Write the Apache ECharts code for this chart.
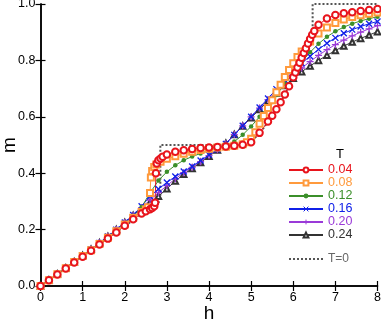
<!DOCTYPE html>
<html>
<head>
<meta charset="utf-8">
<script src="https://cdn.jsdelivr.net/npm/echarts@6/dist/echarts.min.js"></script>
<style>
html,body{margin:0;padding:0;background:#fff;}
#chart{width:381px;height:324px;}
</style>
</head>
<body>
<div id="chart"></div>
<script>
// h grid shared by the T=0.12 .. 0.24 curves
let hGrid = [0,0.2,0.4,0.6,0.8,1.0,1.2,1.4,1.6,1.8,2.0,2.2,2.4,2.6,2.8,3.0,3.2,3.4,3.6,3.8,4.0,
    4.2,4.4,4.6,4.8,5.0,5.2,5.4,5.6,5.8,6.0,6.2,6.4,6.6,6.8,7.0,7.2,7.4,7.6,7.8,8.0];

let mT24 = [0,0.021,0.043,0.064,0.086,0.108,0.13,0.153,0.176,0.2,0.225,0.25,0.274,0.296,0.318,0.345,0.372,0.396,0.417,0.438,0.46,
    0.482,0.506,0.537,0.567,0.597,0.626,0.655,0.684,0.711,0.737,0.76,0.78,0.80,0.818,0.835,0.851,0.865,0.878,0.89,0.902];
let mT20 = [0,0.021,0.043,0.064,0.086,0.108,0.13,0.153,0.176,0.2,0.225,0.251,0.278,0.305,0.331,0.356,0.38,0.402,0.421,0.441,0.462,
    0.483,0.505,0.537,0.568,0.6,0.631,0.661,0.691,0.72,0.748,0.773,0.796,0.818,0.838,0.856,0.872,0.887,0.9,0.912,0.923];
let mT16 = [0,0.021,0.043,0.064,0.086,0.108,0.13,0.153,0.176,0.2,0.225,0.252,0.283,0.318,0.344,0.367,0.388,0.406,0.424,0.445,0.465,
    0.484,0.504,0.536,0.568,0.6,0.633,0.665,0.698,0.73,0.762,0.79,0.815,0.839,0.861,0.88,0.896,0.909,0.92,0.93,0.938];
let mT12 = [0,0.021,0.042,0.064,0.085,0.107,0.129,0.151,0.174,0.198,0.222,0.248,0.28,0.33,0.374,0.405,0.428,0.446,0.459,0.47,0.481,
    0.49,0.498,0.512,0.536,0.566,0.6,0.638,0.677,0.717,0.757,0.795,0.829,0.859,0.884,0.903,0.918,0.93,0.94,0.948,0.955];

// T=0.08 (denser near the jumps)
let hT08 = [0,0.2,0.4,0.6,0.8,1.0,1.2,1.4,1.6,1.8,2.0,2.2,2.4,
    2.5,2.55,2.6,2.62,2.65,2.7,2.75,2.85,
    3.0,3.2,3.4,3.6,3.8,4.0,4.2,4.4,4.6,4.8,
    4.9,5.0,5.1,5.2,5.3,5.4,5.5,5.6,5.7,5.8,5.9,6.0,6.1,6.2,
    6.4,6.6,6.8,7.0,7.2,7.4,7.6,7.8,8.0];
let mT08 = [0,0.02,0.042,0.063,0.085,0.106,0.127,0.149,0.171,0.194,0.218,0.242,0.262,
    0.271,0.279,0.33,0.385,0.408,0.422,0.431,0.441,
    0.451,0.46,0.469,0.476,0.482,0.487,0.491,0.494,0.497,0.503,
    0.51,0.522,0.545,0.575,0.603,0.631,0.659,0.687,0.714,0.741,0.766,0.79,0.812,0.832,
    0.867,0.895,0.917,0.933,0.945,0.954,0.96,0.965,0.97];

// T=0.04
let hT04 = [0,0.2,0.4,0.6,0.8,1.0,1.2,1.4,1.6,1.8,2.0,2.2,2.4,
    2.5,2.6,2.65,2.7,2.72,2.74,2.76,2.8,2.85,2.9,
    3.0,3.2,3.4,3.6,3.8,4.0,4.2,4.4,4.6,4.8,
    5.0,5.2,5.4,
    5.5,5.6,5.7,5.8,5.9,6.0,
    6.05,6.1,6.15,6.2,6.25,6.3,6.35,6.4,6.45,6.5,
    6.6,6.8,7.0,7.2,7.4,7.6,7.8,8.0];
let mT04 = [0,0.02,0.041,0.062,0.083,0.104,0.125,0.147,0.168,0.19,0.214,0.237,0.257,
    0.265,0.272,0.277,0.283,0.295,0.4,0.434,0.446,0.452,0.458,
    0.466,0.476,0.481,0.486,0.489,0.491,0.493,0.495,0.497,0.501,
    0.51,0.543,0.583,
    0.604,0.627,0.652,0.679,0.708,0.74,
    0.757,0.775,0.792,0.809,0.826,0.843,0.86,0.876,0.891,0.904,
    0.926,0.949,0.961,0.967,0.971,0.975,0.979,0.982];

// T=0 ground state
let hT0 = [0,2.845,2.845,4.9,5.2,5.6,6.0,6.3,6.46,6.46,8];
let mT0 = [0,0.302,0.5,0.5,0.54,0.625,0.735,0.84,0.88,1.0,1.0];

let tNames = ['0.04','0.08','0.12','0.16','0.20','0.24'];

let myChart = echarts.init(document.getElementById('chart'));
let font = 'Liberation Sans';
let color = ['#e8141c','#ff9a3c','#3b8f2a','#1020e8','#9a3ad8','#333333'];
let symbols = ['emptyCircle','emptyRect','circle','path://M0,0L10,10M10,0L0,10','path://M5,0L5,10M0,5L10,5','emptyTriangle'];
let sizes = [6.5,6,4.5,6,7,5.5];
let hs = [hT04,hT08,hGrid,hGrid,hGrid,hGrid];
let ms = [mT04,mT08,mT12,mT16,mT20,mT24];

function pairs(h, m) {
    return h.map(function (v, i) { return [v, m[i]]; });
}

let seriesData = [{
    name: 'T=0',
    type: 'line',
    symbol: 'none',
    lineStyle: { color: '#555', width: 2, type: [2,2] },
    itemStyle: { color: '#555' },
    data: pairs(hT0, mT0),
    z: 1
}];
let legendArr = [];
for (let i = 5; i >= 0; i--) {
    let isPath = symbols[i].indexOf('path://') === 0;
    seriesData.push({
        name: tNames[i],
        type: 'line',
        symbol: symbols[i],
        symbolSize: sizes[i],
        showAllSymbol: true,
        lineStyle: { color: color[i], width: 1 },
        itemStyle: isPath ? { color: color[i], borderColor: color[i], borderWidth: 1.3 } : { color: color[i], borderWidth: 1.1 },
        data: pairs(hs[i], ms[i]),
        z: 2
    });
}
for (let i = 0; i < 6; i++) {
    legendArr.push({ name: tNames[i], textStyle: { color: color[i] }, itemStyle: { borderWidth: 1 } });
}

let axisLine = { show: true, lineStyle: { color: '#000', width: 1.5 } };
let tick = { show: true, inside: true, length: 5, lineStyle: { color: '#000', width: 1.2 } };

let option = {
    animation: false,
    grid: { left: 40.5, right: 3.5, top: 4, bottom: 38, containLabel: false, outerBoundsMode: 'none' },
    xAxis: [{
        type: 'value', min: 0, max: 8, interval: 1,
        name: 'h', nameLocation: 'middle', nameGap: 18, nameMoveOverlap: false,
        nameTextStyle: { fontSize: 19, fontFamily: font, color: '#000' },
        axisLine: axisLine, axisTick: tick,
        axisLabel: { fontSize: 12.5, fontFamily: font, color: '#000', margin: 5 },
        splitLine: { show: false }
    }, {
        type: 'value', min: 0, max: 8, interval: 1, position: 'top',
        axisLine: axisLine, axisTick: tick, axisLabel: { show: false }, splitLine: { show: false }
    }],
    yAxis: [{
        type: 'value', min: 0, max: 1, interval: 0.2,
        name: 'm', nameLocation: 'middle', nameGap: 21, nameMoveOverlap: false,
        nameTextStyle: { fontSize: 19, fontFamily: font, color: '#000' },
        axisLine: axisLine, axisTick: tick,
        axisLabel: { fontSize: 12.5, fontFamily: font, color: '#000', margin: 5,
            formatter: function (v) { return v.toFixed(1); } },
        splitLine: { show: false }
    }, {
        type: 'value', min: 0, max: 1, interval: 0.2, position: 'right',
        axisLine: axisLine, axisTick: tick, axisLabel: { show: false }, splitLine: { show: false }
    }],
    legend: [{
        data: legendArr,
        orient: 'vertical', left: 288, top: 163.5, padding: 0,
        itemWidth: 34, itemHeight: 6, itemGap: 0, itemTextGap: 6,
        selectedMode: false,
        textStyle: { fontSize: 12.5, lineHeight: 12.9, fontFamily: font }
    }, {
        data: [{ name: 'T=0', textStyle: { color: '#666' }, itemStyle: { opacity: 0 } }],
        orient: 'vertical', left: 288, top: 252.5, padding: 0,
        itemWidth: 34, itemHeight: 6, itemTextGap: 6,
        selectedMode: false,
        textStyle: { fontSize: 12, lineHeight: 12.9, fontFamily: font }
    }],
    graphic: [{
        type: 'text', left: 336, top: 148,
        style: { text: 'T', fontSize: 13, fontFamily: font, fill: '#000' }
    }],
    series: seriesData
};
myChart.setOption(option);

window.addEventListener('resize', function () {
    myChart.resize();
});
</script>
</body>
</html>
